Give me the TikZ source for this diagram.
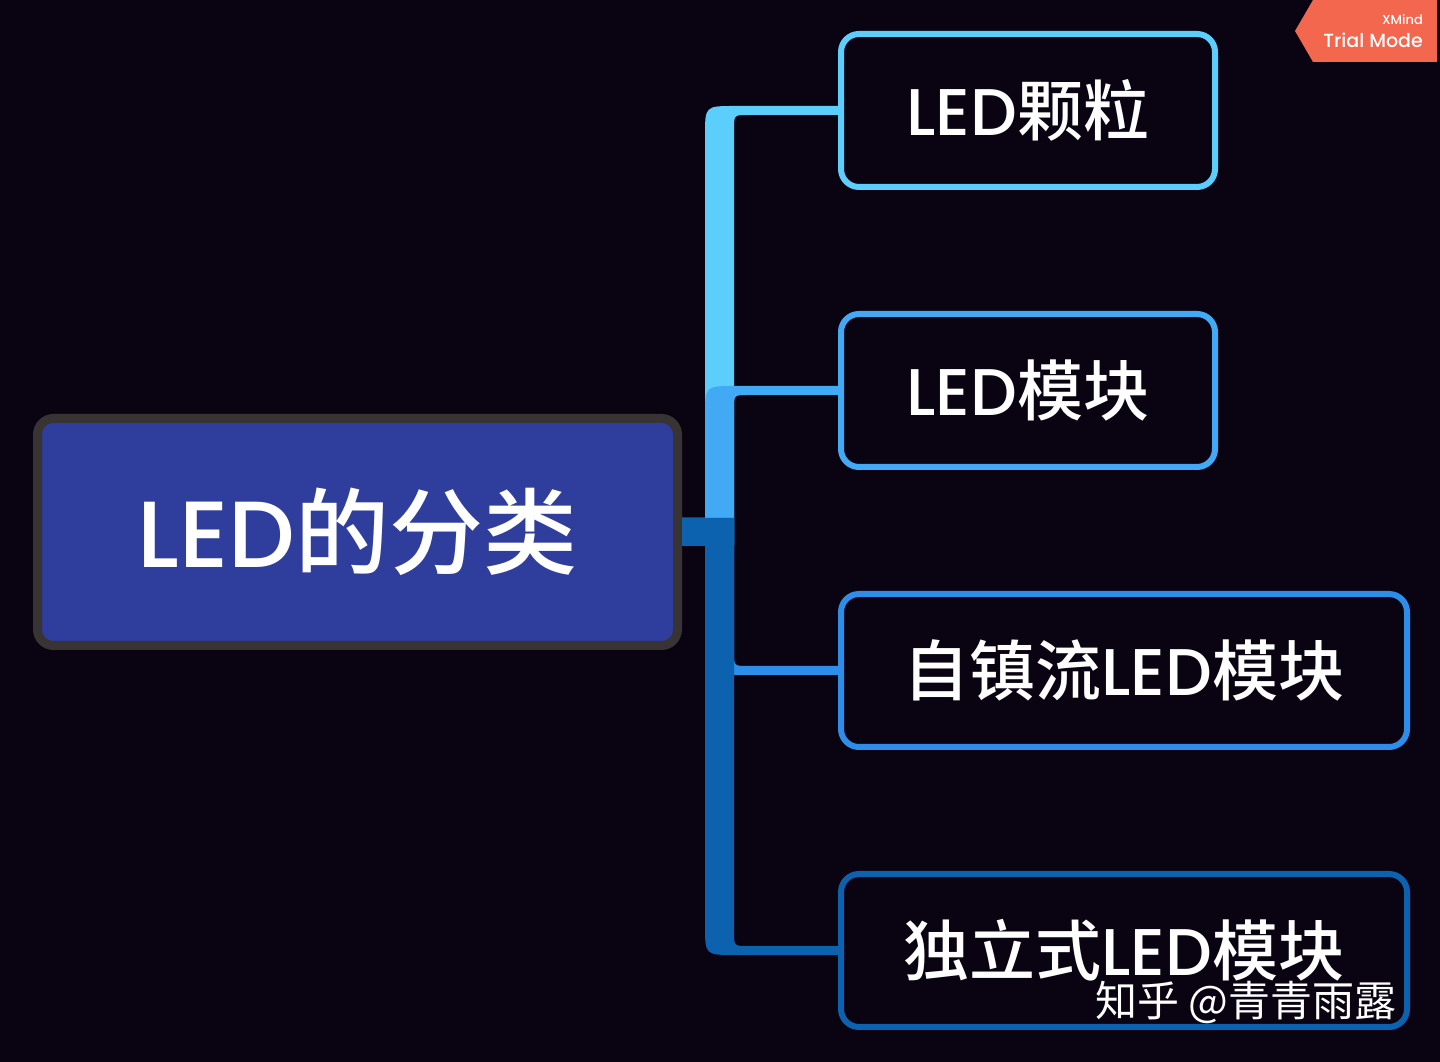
\documentclass[tikz,border=0pt]{standalone}
\usepackage{fontspec}
\setmainfont{Noto Sans CJK SC}[UprightFont=* Medium]
\newfontfamily\wmfont{Noto Sans CJK SC}
\newfontfamily\lat{Poppins}[UprightFont=* Medium]
\usetikzlibrary{calc}
\definecolor{bg}{HTML}{0A0412}
\definecolor{rootfill}{HTML}{2F3D9D}
\definecolor{rootborder}{HTML}{383434}
\definecolor{colA}{HTML}{5CCEFC}
\definecolor{colB}{HTML}{42AAF5}
\definecolor{colC}{HTML}{2D8DE8}
\definecolor{colD}{HTML}{0C62AE}
\definecolor{badge}{HTML}{F4674F}
\begin{document}
\begin{tikzpicture}[x=1pt,y=1pt,
  rootbox/.style={draw=rootborder,fill=rootfill,line width=9pt,rounded corners=16pt,
    minimum width=640pt,minimum height=227pt,text=white,inner sep=0pt,
    font=\fontsize{94}{104}\selectfont},
  leaf/.style={draw=#1,fill=bg,line width=6pt,rounded corners=18pt,
    minimum height=153pt,text=white,inner sep=0pt,
    font=\fontsize{66}{74}\selectfont},
  narrow/.style={minimum width=374pt},
  wide/.style={minimum width=566pt},
  wmark/.style={text=white,inner sep=0pt,font=\wmfont\fontsize{42}{48}\selectfont},
  badgetext/.style={text=white,inner sep=0pt,anchor=east},
]
\fill[bg] (0,0) rectangle (1440,1062);
\useasboundingbox (0,0) rectangle (1440,1062);

% nodes
\node[rootbox] (root) at (357.5,530) {{\lat LED}的分类};
\node[leaf=colA,narrow] (c1) at (1028,951.5) {{\lat LED}颗粒};
\node[leaf=colB,narrow] (c2) at (1028,671.5) {{\lat LED}模块};
\node[leaf=colC,wide] (c3) at (1124,391.5) {自镇流{\lat LED}模块};
\node[leaf=colD,wide] (c4) at (1124,111.5) {独立式{\lat LED}模块};

% upward branches
\fill[colA] let \p1=(root.east), \p2=(c1.west) in
  (\x1,\y1-14) -- (\x1,\y1+14) -- (\x1+23,\y1+14) -- (\x1+23,\y2+4.5-30)
  .. controls (\x1+23,\y2+4.5) .. (\x1+53,\y2+4.5) -- (\x2,\y2+4.5) -- (\x2,\y2-4.5)
  -- (\x1+66,\y2-4.5) .. controls (\x1+52,\y2-4.5) .. (\x1+52,\y2-18.5) -- (\x1+52,\y1-14) -- cycle;
\fill[colB] let \p1=(root.east), \p2=(c2.west) in
  (\x1,\y1-14) -- (\x1,\y1+14) -- (\x1+23,\y1+14) -- (\x1+23,\y2+4.5-30)
  .. controls (\x1+23,\y2+4.5) .. (\x1+53,\y2+4.5) -- (\x2,\y2+4.5) -- (\x2,\y2-4.5)
  -- (\x1+66,\y2-4.5) .. controls (\x1+52,\y2-4.5) .. (\x1+52,\y2-18.5) -- (\x1+52,\y1-14) -- cycle;
% downward branches
\fill[colC] let \p1=(root.east), \p2=(c3.west) in
  (\x1,\y1+14) -- (\x1,\y1-14) -- (\x1+23,\y1-14) -- (\x1+23,\y2-4.5+30)
  .. controls (\x1+23,\y2-4.5) .. (\x1+53,\y2-4.5) -- (\x2,\y2-4.5) -- (\x2,\y2+4.5)
  -- (\x1+66,\y2+4.5) .. controls (\x1+52,\y2+4.5) .. (\x1+52,\y2+18.5) -- (\x1+52,\y1+14) -- cycle;
\fill[colD] let \p1=(root.east), \p2=(c4.west) in
  (\x1,\y1+14) -- (\x1,\y1-14) -- (\x1+23,\y1-14) -- (\x1+23,\y2-4.5+30)
  .. controls (\x1+23,\y2-4.5) .. (\x1+53,\y2-4.5) -- (\x2,\y2-4.5) -- (\x2,\y2+4.5)
  -- (\x1+66,\y2+4.5) .. controls (\x1+52,\y2+4.5) .. (\x1+52,\y2+18.5) -- (\x1+52,\y1+14) -- cycle;

% watermark
\node[wmark] (wm) at (1246,60) {知乎 @青青雨露};

% badge
\fill[badge] (1313,1062) -- (1437,1062) -- (1437,1000) -- (1313,1000) -- (1295,1031) -- cycle;
\node[badgetext,font=\lat\fontsize{13}{15}\selectfont] (xm) at (1423,1042) {XMind};
\node[badgetext,font=\lat\fontsize{19}{22}\selectfont] (tm) at (1423,1022) {Trial Mode};
\end{tikzpicture}
\end{document}
